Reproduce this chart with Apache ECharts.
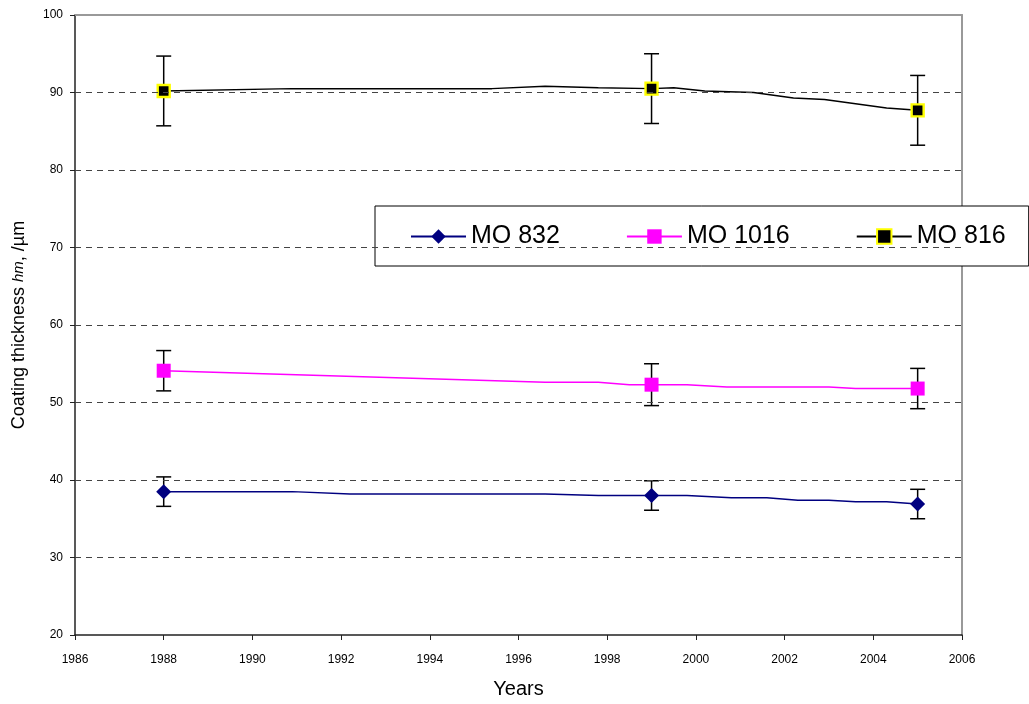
<!DOCTYPE html>
<html><head><meta charset="utf-8">
<script src="https://cdn.jsdelivr.net/npm/echarts@6/dist/echarts.min.js"></script>
<style>html,body{margin:0;padding:0;background:#fff}#c{width:1029px;height:704px}</style>
</head><body><div id="c"></div>
<script>
const seriesNames = ['MO 832', 'MO 1016', 'MO 816'];
const markerYears = [1988, 1999, 2005];

const mo832Years  = [1988, 1990.9, 1992.2, 1996.6, 1997.8, 1999, 1999.8, 2000.8, 2001.6, 2002.3, 2003.0, 2003.6, 2004.3, 2005];
const mo832Values = [38.5, 38.5,   38.2,   38.2,   38.0,   38.0, 38.0,   37.7,   37.7,   37.4,   37.4,   37.2,   37.2,   36.9];

const mo1016Years  = [1988, 1996.6, 1997.8, 1998.5, 1999, 1999.8, 2000.7, 2003.0, 2003.6, 2005];
const mo1016Values = [54.1, 52.6,   52.6,   52.3,   52.3, 52.3,   52.0,   52.0,   51.8,   51.8];

const mo816Years  = [1988, 1990.9, 1995.4, 1996.6, 1997.8, 1999, 1999.5, 2000.2, 2001.3, 2002.2, 2002.9, 2004.3, 2005];
const mo816Values = [90.2, 90.5,   90.5,   90.8,   90.6,   90.5, 90.6,   90.2,   90.0,   89.3,   89.1,   88.0,   87.7];

const mo832Err  = [1.9, 1.9, 1.9];
const mo1016Err = [2.6, 2.7, 2.6];
const mo816Err  = [4.5, 4.5, 4.5];

const gridValues = [30, 40, 50, 60, 70, 80, 90];

function lineData(years, values) {
  return years.map((y, i) => markerYears.indexOf(y) >= 0
    ? { value: [y, values[i]] }
    : { value: [y, values[i]], symbol: 'none' });
}
function errData(years, values, errs) {
  return markerYears.map((y, k) => {
    const v = values[years.indexOf(y)];
    return [y, v - errs[k], v + errs[k]];
  });
}
const allErr = []
  .concat(errData(mo832Years, mo832Values, mo832Err))
  .concat(errData(mo1016Years, mo1016Values, mo1016Err))
  .concat(errData(mo816Years, mo816Values, mo816Err));

const chart = echarts.init(document.getElementById('c'), null, { renderer: 'canvas' });
const font = 'Liberation Sans, Arial, sans-serif';

chart.setOption({
  animation: false,
  backgroundColor: '#fff',
  textStyle: { fontFamily: font },
  grid: { left: 75, right: 67, top: 15, bottom: 67 },
  legend: {
    data: seriesNames,
    left: 375, top: 206,
    orient: 'horizontal',
    backgroundColor: '#fff',
    borderColor: '#000', borderWidth: 1,
    padding: [18, 23, 17, 35],
    itemWidth: 55, itemHeight: 18, itemGap: 66,
    textStyle: { fontFamily: font, fontSize: 25, color: '#000', padding: [0, 0, 0, 0] },
    selectedMode: false
  },
  xAxis: [{
    type: 'value', min: 1986, max: 2006, interval: 2,
    name: 'Years', nameLocation: 'middle', nameGap: 44,
    nameTextStyle: { fontFamily: font, fontSize: 20, color: '#000' },
    axisLine: { show: true, onZero: false, lineStyle: { color: '#222', width: 1.5 } },
    axisTick: { show: true, inside: false, length: 5, lineStyle: { color: '#222' } },
    axisLabel: { fontFamily: font, fontSize: 12, color: '#000', margin: 19, formatter: v => String(v) },
    splitLine: { show: false }
  }, {
    type: 'value', min: 1986, max: 2006, position: 'top',
    axisLine: { show: true, onZero: false, lineStyle: { color: '#999', width: 2 } },
    axisTick: { show: false }, axisLabel: { show: false }, splitLine: { show: false }
  }],
  yAxis: [{
    type: 'value', min: 20, max: 100, interval: 10,
    name: '{a|Coating thickness }{i|hm}{a|, /µm}',
    nameLocation: 'middle', nameGap: 47, nameRotate: 90,
    nameTextStyle: {
      fontFamily: font, fontSize: 18, color: '#000',
      rich: {
        a: { fontFamily: font, fontSize: 18, color: '#000' },
        i: { fontFamily: font, fontSize: 15, fontStyle: 'italic', color: '#000' }
      }
    },
    axisLine: { show: true, onZero: false, lineStyle: { color: '#222', width: 1.5 } },
    axisTick: { show: true, inside: false, length: 5, lineStyle: { color: '#222' } },
    axisLabel: { fontFamily: font, fontSize: 12, color: '#000', margin: 12 },
    splitLine: { show: false }
  }, {
    type: 'value', min: 20, max: 100, position: 'right',
    axisLine: { show: true, onZero: false, lineStyle: { color: '#999', width: 2 } },
    axisTick: { show: false }, axisLabel: { show: false }, splitLine: { show: false }
  }],
  series: [
    {
      type: 'custom', name: 'err', silent: true, z: 3,
      xAxisIndex: 0, yAxisIndex: 0,
      data: allErr,
      renderItem: function (params, api) {
        const x = api.value(0);
        const lo = api.coord([x, api.value(1)]);
        const hi = api.coord([x, api.value(2)]);
        const w = 7.5;
        const st = { stroke: '#000', lineWidth: 1.5 };
        return { type: 'group', children: [
          { type: 'line', shape: { x1: lo[0], y1: lo[1], x2: hi[0], y2: hi[1] }, style: st },
          { type: 'line', shape: { x1: lo[0] - w, y1: lo[1], x2: lo[0] + w, y2: lo[1] }, style: st },
          { type: 'line', shape: { x1: hi[0] - w, y1: hi[1], x2: hi[0] + w, y2: hi[1] }, style: st }
        ]};
      },
      markLine: {
        silent: true, symbol: 'none', animation: false,
        label: { show: false },
        lineStyle: { type: [6, 5], color: '#444', width: 1 },
        data: gridValues.map(v => ({ yAxis: v }))
      }
    },
    {
      type: 'line', name: seriesNames[0], z: 4,
      data: lineData(mo832Years, mo832Values),
      symbol: 'diamond', symbolSize: 15, showAllSymbol: true,
      lineStyle: { color: '#000080', width: 1.5 },
      itemStyle: { color: '#000080' }
    },
    {
      type: 'line', name: seriesNames[1], z: 4,
      data: lineData(mo1016Years, mo1016Values),
      symbol: 'rect', symbolSize: 14, showAllSymbol: true,
      lineStyle: { color: '#FF00FF', width: 1.5 },
      itemStyle: { color: '#FF00FF' }
    },
    {
      type: 'line', name: seriesNames[2], z: 4,
      data: lineData(mo816Years, mo816Values),
      symbol: 'rect', symbolSize: 12, showAllSymbol: true,
      lineStyle: { color: '#000', width: 1.5 },
      itemStyle: { color: '#000', borderColor: '#FFFF00', borderWidth: 2.4 }
    }
  ]
});
</script>
</body></html>
